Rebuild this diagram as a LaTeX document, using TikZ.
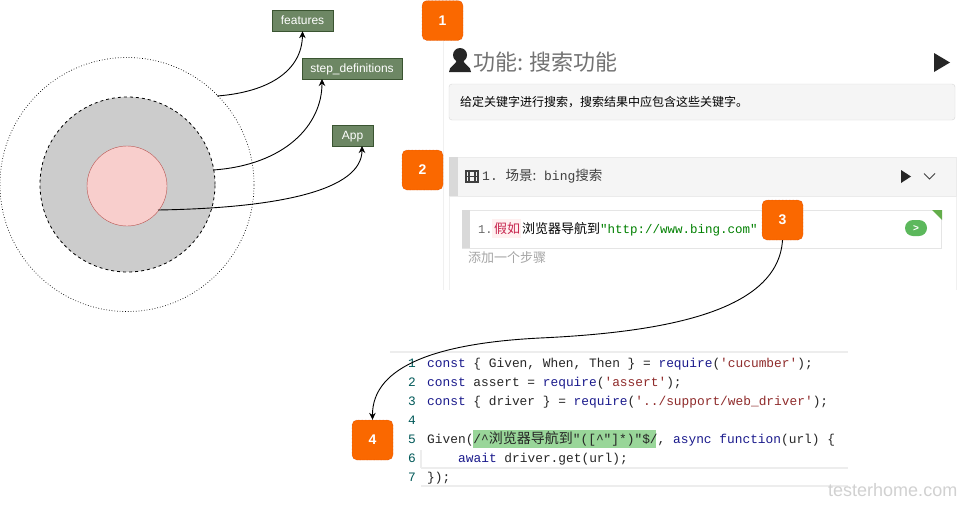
\documentclass[tikz,border=0pt]{standalone}
\usepackage{fontspec}
\usetikzlibrary{arrows.meta}
\setmainfont{Liberation Sans}
\setmonofont{Liberation Mono}
\newfontfamily\cjk{Noto Sans CJK SC}
\definecolor{boxgreen}{HTML}{6D8764}
\definecolor{boxedge}{HTML}{3A5431}
\definecolor{badge}{HTML}{FA6800}
\definecolor{badgeedge}{HTML}{C73500}
\definecolor{kwblue}{HTML}{1A1A8C}
\definecolor{strred}{HTML}{8F2B2B}
\definecolor{coreedge}{HTML}{B85450}
\definecolor{corefill}{HTML}{F8CECC}
\definecolor{pillgreen}{HTML}{5CB85C}
\definecolor{givenred}{HTML}{C7254E}
\newcommand{\cn}[2]{{\cjk\fontsize{#1}{#1}\selectfont #2}}
\newcommand{\kw}[1]{\textcolor{kwblue}{#1}}
\newcommand{\str}[1]{\textcolor{strred}{#1}}
\tikzset{
  folder/.style={shape=rectangle,draw=boxedge,fill=boxgreen,text=white,font=\fontsize{12}{12}\selectfont,minimum height=21pt,inner sep=0pt,text height=8.6pt,text depth=0pt},
  badgebox/.style={shape=rectangle,rounded corners=5pt,draw=badgeedge,densely dotted,fill=badge,text=white,font=\bfseries\fontsize{14}{14}\selectfont,minimum width=41pt,minimum height=40pt,inner sep=0pt},
  codeline/.style={anchor=base west,inner sep=0pt,text=black!85,font=\ttfamily\fontsize{12.85}{13}\selectfont},
  linenum/.style={anchor=base,inner sep=0pt,text=teal!70!black,font=\ttfamily\fontsize{12.85}{13}\selectfont},
  label/.style={anchor=base west,inner sep=0pt},
  panelbox/.style={shape=rectangle,draw=black!15,fill=black!4,inner sep=0pt},
  rule/.style={draw=black!7,line width=1.2pt},
  faintrule/.style={draw=black!6,line width=1pt},
  link/.style={->,line width=0.9pt}
}
\begin{document}
\begin{tikzpicture}[>={Stealth[length=7pt,width=6.5pt]},x=1pt,y=-1pt]
\useasboundingbox (0,0) rectangle (963,509);
\fill [white] (0,0) rectangle (963,509);
% circles
\node (outer) at (127,184.5) [shape=circle,draw,dotted,line width=0.7pt,minimum size=254pt,inner sep=0pt] {};
\node (middle) at (127.5,184.5) [shape=circle,draw,dashed,line width=0.8pt,fill=black!20,minimum size=175pt,inner sep=0pt] {};
\node (inner) at (127,186) [shape=circle,draw=coreedge,fill=corefill,minimum size=80pt,inner sep=0pt] {};
\node (features) at (302.5,20.5) [folder,minimum width=61pt] {features};
\node (stepdefs) at (352,68.5) [folder,minimum width=100pt] {step\_definitions};
\node (app) at (352.5,135.5) [folder,minimum width=41pt] {App};
\coordinate (outerpt) at (217,96);
\coordinate (middlept) at (213,170);
\coordinate (innerpt) at (158,210);
\coordinate (stepend) at (322,79);
\coordinate (append) at (362,146);
\draw [link] (outerpt) .. controls (270,92) and (302,70) .. (features.south);
\draw [link] (middlept) .. controls (285,165) and (322,125) .. (stepend);
\draw [link] (innerpt) .. controls (280,208) and (362,190) .. (append);
% feature panel
\draw [faintrule] (443,41) -- (443,290);
\fill [black!85] (460,55) circle (7pt);
\fill [black!85] (449,72) .. controls (449,66) and (456,65) .. (457,60) -- (463,60) .. controls (464,65) and (471,66) .. (471,72) -- cycle;
\node (title) at (473,70) [label,text=black!55] {\cn{22}{功能: 搜索功能}};
\fill [black!85] (934,53) -- (950,62.5) -- (934,72) -- cycle;
\node (descbox) at (702,102) [panelbox,rounded corners=3pt,minimum width=506pt,minimum height=36pt] {};
\node (desc) at (460,106.5) [label] {\cn{12}{给定关键字进行搜索，搜索结果中应包含这些关键字。}};
% scenario panel
\draw [faintrule] (449,196) -- (449,290);
\draw [faintrule] (956,196) -- (956,290);
\node (scenbox) at (702.5,176.5) [panelbox,draw=black!8,minimum width=507pt,minimum height=39pt] {};
\fill [black!15] (449,157) rectangle (458,196);
\draw [black!75,line width=1.2pt] (466,171) rectangle (478,182) (466,176.5) -- (478,176.5) (469,171) -- (469,182) (475,171) -- (475,182);
\node (scen) at (482,180.5) [label,text=black!75,font=\ttfamily\fontsize{13}{13}\selectfont] {1. \cn{13.5}{场景:} bing\cn{13.5}{搜索}};
\fill [black!85] (901,170) -- (911,176.5) -- (901,183) -- cycle;
\draw [black!75,line width=1pt] (924,173.5) -- (929.5,179) -- (935,173.5);
\node (stepbox) at (701.5,229) [panelbox,draw=black!10,fill=white,minimum width=479pt,minimum height=38pt] {};
\fill [black!15] (462,210) rectangle (470,248);
\fill [pillgreen!80!olive] (932,210) -- (942,210) -- (942,220) -- cycle;
\fill [red!6] (492,219) rectangle (521,238);
\node (stepnum) at (478,233) [label,text=black!60,font=\ttfamily\fontsize{12}{12}\selectfont] {1.};
\node (given) at (494,233) [label,text=givenred] {\cn{13}{假如}};
\node (steptext) at (522,233) [label] {\cn{13}{浏览器导航到}};
\node (stepurl) at (600,233) [label,text=green!50!black,font=\ttfamily\fontsize{12.5}{12.5}\selectfont] {"http://www.bing.com"};
\node (runpill) at (916,228) [shape=rectangle,rounded corners=8pt,fill=pillgreen,text=white,minimum width=22pt,minimum height=16pt,inner sep=0pt,font=\bfseries\fontsize{10}{10}\selectfont] {>};
\node (addstep) at (468,262) [label,text=black!35] {\cn{13}{添加一个步骤}};
% code
\draw [rule] (390,352) -- (848,352);
\draw [rule] (421,468) -- (848,468);
\draw [rule] (421,486) -- (848,486);
\draw [rule] (421,450) -- (421,468);
\node (match) at (564.5,439) [shape=rectangle,fill=green!60!black!40,minimum width=183pt,minimum height=18pt,inner sep=0pt] {};
\node (n1) at (412,367) [linenum] {1};
\node (n2) at (412,386) [linenum] {2};
\node (n3) at (412,405) [linenum] {3};
\node (n4) at (412,424) [linenum] {4};
\node (n5) at (412,443) [linenum] {5};
\node (n6) at (412,462) [linenum] {6};
\node (n7) at (412,481) [linenum] {7};
\node (c1) at (427,367) [codeline] {\kw{const} \{ Given, When, Then \} = \kw{require}(\str{'cucumber'});};
\node (c2) at (427,386) [codeline] {\kw{const} assert = \kw{require}(\str{'assert'});};
\node (c3) at (427,405) [codeline] {\kw{const} \{ driver \} = \kw{require}(\str{'../support/web\_driver'});};
\node (c5) at (427,443) [codeline] {Given(/\^{}\cn{14}{浏览器导航到}"([\^{}"]*)"\$/, \kw{async} \kw{function}(url) \{};
\node (c6) at (458,462) [codeline] {\kw{await} driver.get(url);};
\node (c7) at (427,481) [codeline] {\});};
% badges
\node (b1) at (442.5,20.5) [badgebox] {1};
\node (b2) at (422.5,170) [badgebox] {2};
\node (b3) at (782.5,220) [badgebox] {3};
\node (b4) at (372.5,440) [badgebox] {4};
\draw [link] (b3.south) .. controls (778,310) and (670,332) .. (540,338) .. controls (440,343) and (372,365) .. (b4.north);
\node (mark) at (828,496) [label,text=black!18,font=\fontsize{18}{18}\selectfont] {testerhome.com};
\end{tikzpicture}
\end{document}
